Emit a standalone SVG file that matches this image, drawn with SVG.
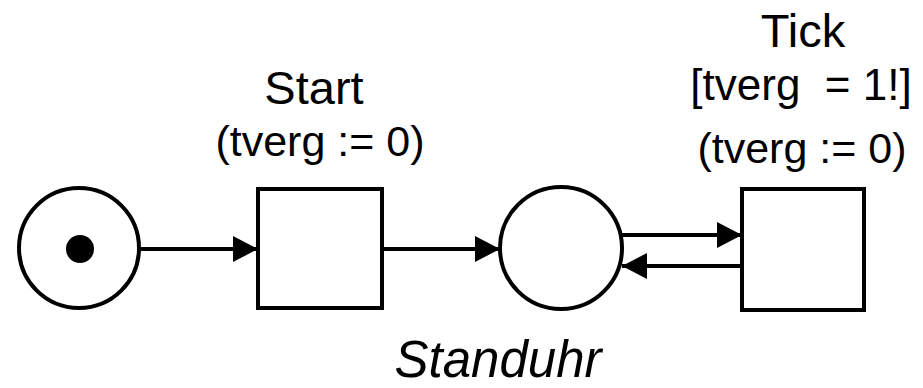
<svg xmlns="http://www.w3.org/2000/svg" width="923" height="388" viewBox="0 0 923 388">
  <defs>
    <style>
      .shape { fill: #ffffff; stroke: #000000; stroke-width: 4; }
      .arc { fill: none; stroke: #000000; stroke-width: 4; }
      .label { font-family: "Liberation Sans", Arial, sans-serif; fill: #000000; text-anchor: middle; }
      .title { font-size: 47px; }
      .expr { font-size: 43px; }
      .guard { font-size: 44px; }
      .caption { font-size: 51px; font-style: italic; }
    </style>
    <marker id="head" markerUnits="userSpaceOnUse" markerWidth="26" markerHeight="28" refX="25" refY="14" orient="auto">
      <path d="M0,1 L25,14 L0,27 Z" fill="#000000"/>
    </marker>
  </defs>

  <rect width="923" height="388" fill="#ffffff"/>

  <!-- arcs of the net -->
  <g id="connectors">
    <line class="arc" x1="140" y1="249" x2="258" y2="249" marker-end="url(#head)"/>
    <line class="arc" x1="382" y1="249" x2="500" y2="249" marker-end="url(#head)"/>
    <line class="arc" x1="619" y1="235" x2="742" y2="235" marker-end="url(#head)"/>
    <line class="arc" x1="742" y1="266" x2="622" y2="266" marker-end="url(#head)"/>
  </g>

  <!-- initial place with one token -->
  <g id="place-initial">
    <circle class="shape" cx="79" cy="248" r="60"/>
    <circle cx="80" cy="249" r="14" fill="#000000"/>
  </g>

  <!-- transition Start -->
  <g id="transition-start">
    <rect class="shape" x="258" y="189" width="124" height="119"/>
    <text class="label title" x="314" y="104">Start</text>
    <text class="label expr" x="320" y="156">(tverg := 0)</text>
  </g>

  <!-- running place -->
  <g id="place-running">
    <circle class="shape" cx="561" cy="248" r="61"/>
  </g>

  <!-- transition Tick -->
  <g id="transition-tick">
    <rect class="shape" x="742" y="189" width="122" height="121"/>
    <text class="label title" x="803" y="47">Tick</text>
    <text class="label guard" x="801" y="100">[tverg&#160; = 1!]</text>
    <text class="label expr" x="802" y="163">(tverg := 0)</text>
  </g>

  <text class="label caption" x="498" y="377">Standuhr</text>
</svg>
